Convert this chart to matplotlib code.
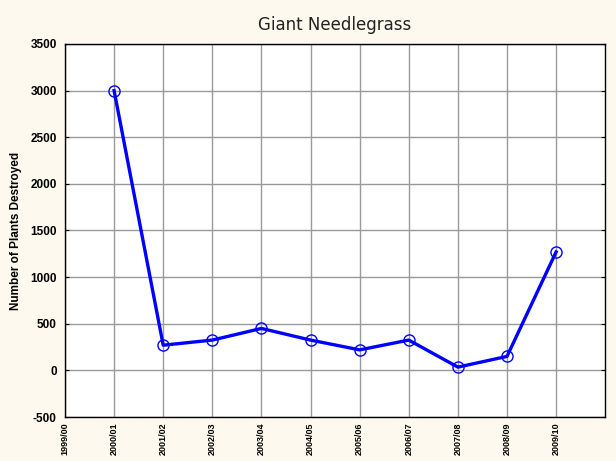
import matplotlib
matplotlib.use("Agg")
import matplotlib.pyplot as plt

# data
seasons = ['1999/00', '2000/01', '2001/02', '2002/03', '2003/04', '2004/05',
           '2005/06', '2006/07', '2007/08', '2008/09', '2009/10']
plot_seasons = seasons[1:]
destroyed = [3000, 270, 325, 450, 325, 220, 325, 35, 150, 1270]
y_ticks = [-500, 0, 500, 1000, 1500, 2000, 2500, 3000, 3500]

plt.rcParams['font.family'] = ['Liberation Sans', 'DejaVu Sans']

fig = plt.figure(figsize=(6.16, 4.61), dpi=100, facecolor='#fef9ee')
ax = fig.add_axes([0.1055, 0.0954, 0.877, 0.8092])
ax.set_facecolor('white')

x_pos = list(range(len(seasons)))
ax.plot(x_pos[1:], destroyed, color='#0000ff', linewidth=2.4,
        marker='o', markersize=8, markerfacecolor='none',
        markeredgecolor='#0000ff', markeredgewidth=1)

ax.set_xlim(0, 11)
ax.set_ylim(-500, 3500)
ax.set_xticks(x_pos)
ax.set_xticklabels(seasons, rotation=90, fontsize=6.5, fontweight='bold',
                   family=['Liberation Sans Narrow', 'Liberation Sans'])
ax.set_yticks(y_ticks)
ax.set_yticklabels([str(v) for v in y_ticks], fontsize=8.5, fontweight='bold')
ax.tick_params(axis='y', which='both', right=True, direction='in', length=3, pad=6)
ax.tick_params(axis='x', length=0, pad=4)

ax.grid(True, color='#9a9a9a', linewidth=1)
ax.set_axisbelow(True)
for s in ax.spines.values():
    s.set_color('black')
    s.set_linewidth(1)

ax.set_ylabel('Number of Plants Destroyed', fontsize=8.5, fontweight='bold', labelpad=6)
ax.set_title('Giant Needlegrass', fontsize=12, pad=10, color='#222222',
             family=['DejaVu Sans'])

fig.savefig('out.png', dpi=100, facecolor=fig.get_facecolor())
